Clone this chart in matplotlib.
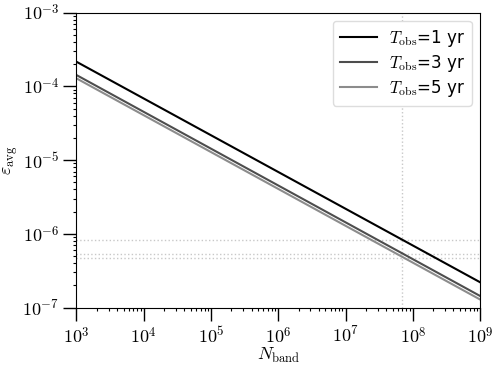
import numpy as np
import matplotlib as mpl
import matplotlib.pyplot as plt
from matplotlib.ticker import FuncFormatter

mpl.rcParams["mathtext.fontset"] = "cm"
mpl.rcParams["font.family"] = ["DejaVu Sans"]

# 数据
n_band = [1e3, 1e9]
eps_1yr = [2.15e-4, 2.21e-7]
eps_3yr = [1.42e-4, 1.44e-7]
eps_5yr = [1.28e-4, 1.29e-7]
labels = [r"$T_{\rm obs}$=1 yr", r"$T_{\rm obs}$=3 yr", r"$T_{\rm obs}$=5 yr"]
colors = ["black", "#4d4d4d", "#8c8c8c"]

h_levels = [8.2e-7, 5.3e-7, 4.7e-7]
v_level = 7.0e7

fig = plt.figure(figsize=(4.98, 3.68), dpi=100)
ax = fig.add_axes([0.1536, 0.164, 0.8104, 0.802])

for y, lab, c in zip([eps_1yr, eps_3yr, eps_5yr], labels, colors):
    ax.plot(n_band, y, color=c, lw=1.5, label=lab)

for h in h_levels:
    ax.axhline(h, color="#c8c8c8", ls=":", lw=1.0, zorder=0)
ax.axvline(v_level, color="#c8c8c8", ls=":", lw=1.0, zorder=0)

ax.set_xscale("log")
ax.set_yscale("log")
ax.set_xlim(1e3, 1e9)
ax.set_ylim(1e-7, 1e-3)
ax.set_xticks([10.0**k for k in range(3, 10)])
ax.set_yticks([10.0**k for k in range(-7, -2)])

# 刻度标签用 cm 字体
fmt = FuncFormatter(lambda v, p: r"$10^{%d}$" % int(round(np.log10(v))))
ax.xaxis.set_major_formatter(fmt)
ax.yaxis.set_major_formatter(fmt)

ax.tick_params(which="major", direction="out", length=9.5, width=1.0, labelsize=13)
ax.tick_params(axis="x", which="major", pad=4)
ax.tick_params(axis="y", which="major", pad=3)
ax.tick_params(which="minor", direction="out", length=2.5, width=0.8)

ax.set_xlabel(r"$N_{\rm band}$", fontsize=13)
ax.set_ylabel(r"$\varepsilon_{\rm avg}$", fontsize=13)
ax.xaxis.set_label_coords(0.5, -0.13)
ax.yaxis.set_label_coords(-0.14, 0.5)

ax.legend(loc="upper right", fontsize=12, handlelength=2.25, handletextpad=0.7,
          framealpha=1.0, edgecolor="#dddddd", borderpad=0.4, labelspacing=0.25)

fig.savefig("out.png", dpi=100)
